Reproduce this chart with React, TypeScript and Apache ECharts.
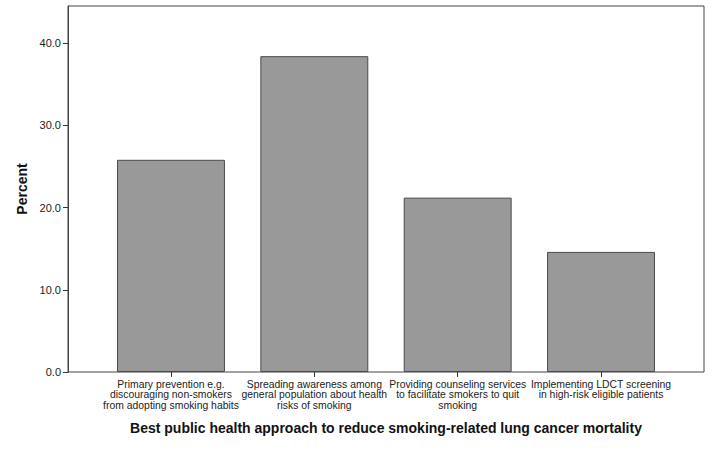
import React, { useEffect, useRef } from "react";
import * as echarts from "echarts";

const categories = [
  "Primary prevention e.g.\ndiscouraging non-smokers\nfrom adopting smoking habits",
  "Spreading awareness among\ngeneral population about health\nrisks of smoking",
  "Providing counseling services\nto facilitate smokers to quit\nsmoking",
  "Implementing LDCT screening\nin high-risk eligible patients",
];
const percents = [25.8, 38.4, 21.2, 14.6];
const yTicks = [0, 10, 20, 30, 40];
const yMax = 44.5;
const xTitle = "Best public health approach to reduce smoking-related lung cancer mortality";
const yTitle = "Percent";

const FONT = "'Liberation Sans', Arial, sans-serif";

export default function App() {
  const ref = useRef<HTMLDivElement>(null);
  useEffect(() => {
    if (!ref.current) return;
    const chart = echarts.init(ref.current, null, { renderer: "svg" });
    chart.setOption({
      animation: false,
      backgroundColor: "#ffffff",
      grid: [
        { left: 68, right: 9, top: 6, bottom: 78, show: true, borderColor: "#444", borderWidth: 1, backgroundColor: "transparent" },
        { left: 99.3, right: 40.3, top: 6, bottom: 78 },
      ],
      xAxis: [
        {
          gridIndex: 0,
          type: "value",
          min: 0,
          max: 1,
          name: xTitle,
          nameLocation: "middle",
          nameGap: 49,
          nameTextStyle: { fontFamily: FONT, fontSize: 14, fontWeight: "bold", color: "#111" },
          axisLine: { show: false },
          axisTick: { show: false },
          axisLabel: { show: false },
          splitLine: { show: false },
        },
        {
          gridIndex: 1,
          type: "category",
          data: categories,
          axisLine: { show: false },
          axisTick: { show: true, alignWithLabel: true, length: 5, lineStyle: { color: "#333" } },
          axisLabel: {
            interval: 0,
            margin: 7,
            fontFamily: FONT,
            fontSize: 10.4,
            lineHeight: 10.5,
            color: "#222",
          },
          splitLine: { show: false },
        },
      ],
      yAxis: [
        {
          gridIndex: 0,
          type: "value",
          min: 0,
          max: yMax,
          interval: 10,
          name: yTitle,
          nameLocation: "middle",
          nameGap: 35,
          nameTextStyle: { fontFamily: FONT, fontSize: 14, fontWeight: "bold", color: "#111" },
          axisLine: { show: true, lineStyle: { color: "#444" } },
          axisTick: { show: true, length: 5, lineStyle: { color: "#333" }, customValues: yTicks },
          axisLabel: {
            customValues: yTicks,
            formatter: (v: number) => v.toFixed(1),
            fontFamily: FONT,
            fontSize: 11,
            color: "#222",
            margin: 7,
          },
          splitLine: { show: false },
        },
        {
          gridIndex: 1,
          type: "value",
          min: 0,
          max: yMax,
          show: false,
          splitLine: { show: false },
        },
      ],
      series: [
        {
          type: "bar",
          xAxisIndex: 1,
          yAxisIndex: 1,
          data: percents,
          barWidth: "75.3%",
          itemStyle: { color: "#999999", borderColor: "#4a4a4a", borderWidth: 1 },
        },
      ],
    });
    return () => chart.dispose();
  }, []);
  return <div ref={ref} style={{ position: "fixed", left: 0, top: 0, width: 713, height: 450 }} />;
}
